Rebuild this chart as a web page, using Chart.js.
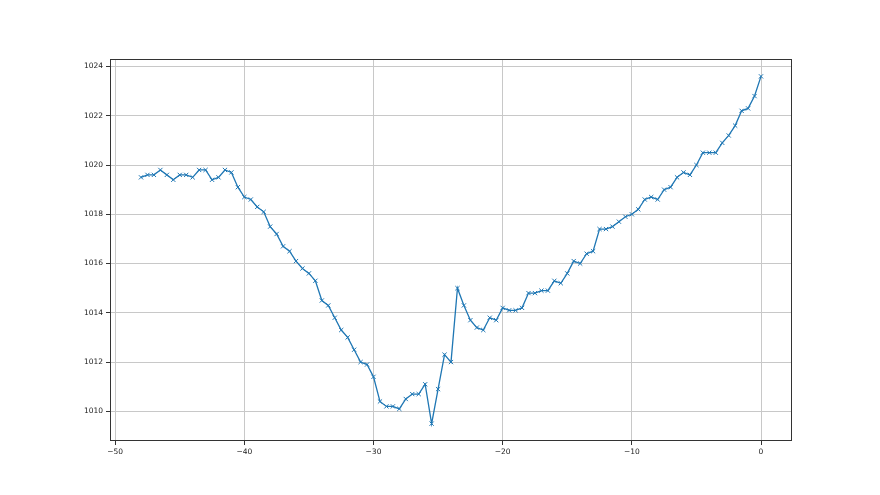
<!DOCTYPE html>
<html>
<head>
<meta charset="utf-8">
<script src="https://cdn.jsdelivr.net/npm/chart.js@4.4.0/dist/chart.umd.min.js"></script>
<style>
  html, body { margin: 0; padding: 0; background: #ffffff; }
  #wrap { width: 880px; height: 495px; position: relative; }
</style>
</head>
<body>
<div id="wrap"><canvas id="c" width="880" height="495"></canvas></div>
<script>
const hours = [-48, -47.5, -47, -46.5, -46, -45.5, -45, -44.5, -44, -43.5, -43, -42.5, -42, -41.5, -41, -40.5,
  -40, -39.5, -39, -38.5, -38, -37.5, -37, -36.5, -36, -35.5, -35, -34.5, -34, -33.5, -33, -32.5,
  -32, -31.5, -31, -30.5, -30, -29.5, -29, -28.5, -28, -27.5, -27, -26.5, -26, -25.5, -25, -24.5,
  -24, -23.5, -23, -22.5, -22, -21.5, -21, -20.5, -20, -19.5, -19, -18.5, -18, -17.5, -17, -16.5,
  -16, -15.5, -15, -14.5, -14, -13.5, -13, -12.5, -12, -11.5, -11, -10.5, -10, -9.5, -9, -8.5,
  -8, -7.5, -7, -6.5, -6, -5.5, -5, -4.5, -4, -3.5, -3, -2.5, -2, -1.5, -1, -0.5, 0];
const pressure = [1019.5, 1019.6, 1019.6, 1019.8, 1019.6, 1019.4, 1019.6, 1019.6, 1019.5, 1019.8, 1019.8, 1019.4, 1019.5, 1019.8, 1019.7, 1019.1,
  1018.7, 1018.6, 1018.3, 1018.1, 1017.5, 1017.2, 1016.7, 1016.5, 1016.1, 1015.8, 1015.6, 1015.3, 1014.5, 1014.3, 1013.8, 1013.3,
  1013.0, 1012.5, 1012.0, 1011.9, 1011.4, 1010.4, 1010.2, 1010.2, 1010.1, 1010.5, 1010.7, 1010.7, 1011.1, 1009.5, 1010.9, 1012.3,
  1012.0, 1015.0, 1014.3, 1013.7, 1013.4, 1013.3, 1013.8, 1013.7, 1014.2, 1014.1, 1014.1, 1014.2, 1014.8, 1014.8, 1014.9, 1014.9,
  1015.3, 1015.2, 1015.6, 1016.1, 1016.0, 1016.4, 1016.5, 1017.4, 1017.4, 1017.5, 1017.7, 1017.9, 1018.0, 1018.2, 1018.6, 1018.7,
  1018.6, 1019.0, 1019.1, 1019.5, 1019.7, 1019.6, 1020.0, 1020.5, 1020.5, 1020.5, 1020.9, 1021.2, 1021.6, 1022.2, 1022.3, 1022.8, 1023.6];
const xTicks = [-50, -40, -30, -20, -10, 0];
const yTicks = [1010, 1012, 1014, 1016, 1018, 1020, 1022, 1024];

const points = hours.map((h, i) => ({ x: h, y: pressure[i] }));
const fmt = v => (v < 0 ? '\u2212' + String(-v) : String(v));

const frame = {
  id: 'frame',
  afterDraw(chart) {
    const a = chart.chartArea, ctx = chart.ctx;
    ctx.save();
    ctx.strokeStyle = '#333333';
    ctx.lineWidth = 1;
    ctx.strokeRect(Math.round(a.left) + 0.5, Math.round(a.top) + 0.5,
      Math.round(a.right - a.left) - 1, Math.round(a.bottom - a.top) - 1);
    ctx.restore();
  }
};

new Chart(document.getElementById('c'), {
  type: 'line',
  data: {
    datasets: [{
      data: points,
      borderColor: '#1f77b4',
      borderWidth: 1.3,
      tension: 0,
      pointStyle: 'crossRot',
      pointRadius: 3,
      pointBorderColor: '#1f77b4',
      pointBorderWidth: 1,
      pointHoverRadius: 3,
      fill: false
    }]
  },
  options: {
    responsive: false,
    animation: false,
    events: [],
    layout: { padding: { top: 59, right: 88, left: 0, bottom: 0 } },
    plugins: { legend: { display: false }, tooltip: { enabled: false } },
    scales: {
      x: {
        type: 'linear',
        min: -50.4, max: 2.4,
        afterBuildTicks(s) { s.ticks = xTicks.map(v => ({ value: v })); },
        afterFit(s) { s.height = 54; },
        grid: { color: '#c8c8c8', lineWidth: 1, tickColor: '#333333', tickLength: 4, drawTicks: true },
        border: { display: false },
        ticks: { color: '#222222', font: { family: 'DejaVu Sans', size: 7.5 }, padding: 3, maxRotation: 0, autoSkip: false,
          callback: v => fmt(v) }
      },
      y: {
        type: 'linear',
        min: 1008.795, max: 1024.305,
        afterBuildTicks(s) { s.ticks = yTicks.map(v => ({ value: v })); },
        afterFit(s) { s.width = 110; },
        grid: { color: '#c8c8c8', lineWidth: 1, tickColor: '#333333', tickLength: 4, drawTicks: true },
        border: { display: false },
        ticks: { color: '#222222', font: { family: 'DejaVu Sans', size: 7.5 }, padding: 3, autoSkip: false,
          callback: v => fmt(v) }
      }
    }
  },
  plugins: [frame]
});
</script>
</body>
</html>
